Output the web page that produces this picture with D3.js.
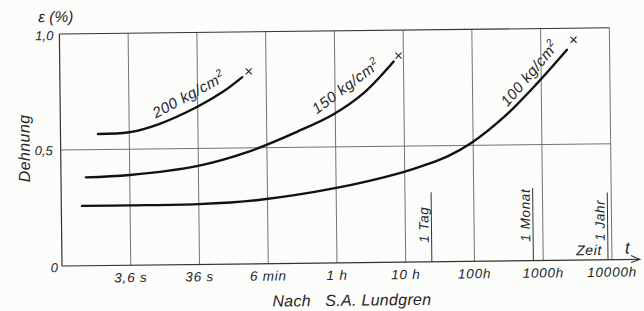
<!DOCTYPE html>
<html>
<head>
<meta charset="utf-8">
<script src="https://cdn.jsdelivr.net/npm/d3@7"></script>
<style>
  body { margin: 0; background: #fcfcfb; }
  svg text { font-family: "Liberation Sans", Arial, sans-serif; font-style: italic; fill: #262626; }
</style>
</head>
<body>
<div id="d3-container"></div>
<script>
/**
 * CONSTANTS AND GLOBALS
 * */
const width = 644,
  height = 311,
  margin = { top: 34, bottom: 45, left: 62, right: 32 };

// time in hours (3,6 s = 0.001 h), strain in %
const tickHours = [0.001, 0.01, 0.1, 1, 10, 100, 1000, 10000];
const tickLabels = ["3,6 s", "36 s", "6 min", "1 h", "10 h", "100h", "1000h", "10000h"];
const yTicks = [0, 0.5, 1.0];
const yTickLabels = ["0", "0,5", "1,0"];

const curve200 = [[0.00035, 0.567], [0.001, 0.573], [0.0026, 0.605], [0.0099, 0.68], [0.024, 0.745], [0.045, 0.805]];
const curve150 = [[0.00023, 0.381], [0.001, 0.389], [0.0099, 0.425], [0.053, 0.483], [0.28, 0.568], [0.96, 0.642], [2.6, 0.73], [7.2, 0.865]];
const curve100 = [[0.0002, 0.258], [0.001, 0.258], [0.0099, 0.26], [0.074, 0.275], [0.96, 0.322], [9, 0.386], [22, 0.422], [43, 0.455], [94, 0.51], [290, 0.623], [880, 0.765], [2400, 0.907]];
const ruptures = [[0.056, 0.83], [8.5, 0.89], [3000, 0.95]];

const stressLabels = ["200 kg/cm", "150 kg/cm", "100 kg/cm"];
const labelPos = [[0.0083, 0.705], [1.65, 0.736], [811, 0.787]];
const labelAngle = [-28, -36, -49];

const markerNames = ["1 Tag", "1 Monat", "1 Jahr"];
const markerHours = [24, 720, 8760];
const markerTop = [0.30, 0.313, 0.29];

let svg;

init();

function init() {
  svg = d3.select("#d3-container")
    .append("svg")
    .attr("width", width)
    .attr("height", height);

  const x = d3.scaleLog()
    .domain([0.0001, 10000])
    .range([margin.left, width - margin.right]);

  const y = d3.scaleLinear()
    .domain([0, 1])
    .range([height - margin.bottom, margin.top]);

  // the scan is a little tilted
  const g = svg.append("g")
    .attr("transform", `rotate(-0.65, ${x.range()[0]}, ${y(0)})`);

  // grid
  g.selectAll(".vgrid")
    .data(tickHours)
    .join("line")
    .attr("class", "vgrid")
    .attr("x1", d => x(d)).attr("x2", d => x(d))
    .attr("y1", y(0)).attr("y2", y(1))
    .attr("stroke", "#5a5a5a").attr("stroke-width", 0.85);

  g.append("line")
    .attr("x1", x.range()[0]).attr("x2", x.range()[1])
    .attr("y1", y(0.5)).attr("y2", y(0.5))
    .attr("stroke", "#5a5a5a").attr("stroke-width", 0.85);

  g.append("line")
    .attr("x1", x.range()[0]).attr("x2", x.range()[1])
    .attr("y1", y(1)).attr("y2", y(1))
    .attr("stroke", "#333").attr("stroke-width", 1.1);

  // axes
  g.append("line")
    .attr("x1", x.range()[0]).attr("x2", x.range()[0])
    .attr("y1", y(0)).attr("y2", y(1))
    .attr("stroke", "#333").attr("stroke-width", 1.2);

  const axisEnd = x.range()[1] + 28;
  g.append("line")
    .attr("x1", x.range()[0]).attr("x2", axisEnd)
    .attr("y1", y(0)).attr("y2", y(0))
    .attr("stroke", "#333").attr("stroke-width", 1.2);

  g.append("path")
    .attr("d", `M${axisEnd - 9},${y(0) - 4}L${axisEnd},${y(0)}L${axisEnd - 9},${y(0) + 3}`)
    .attr("fill", "none").attr("stroke", "#333").attr("stroke-width", 1);

  // tick labels
  g.selectAll(".xlab")
    .data(tickHours)
    .join("text")
    .attr("class", "xlab")
    .attr("x", d => x(d))
    .attr("y", y(0) + 17)
    .attr("text-anchor", "middle")
    .attr("font-size", 13.5)
    .attr("letter-spacing", 0.8)
    .text((d, i) => tickLabels[i]);

  g.selectAll(".ylab")
    .data(yTicks)
    .join("text")
    .attr("class", "ylab")
    .attr("x", (d, i) => [58, 54, 56][i])
    .attr("y", (d, i) => y(d) + [6, 5, 6][i])
    .attr("text-anchor", "end")
    .attr("font-size", 13)
    .text((d, i) => yTickLabels[i]);

  g.append("text")
    .attr("x", 41).attr("y", 22)
    .attr("font-size", 15.5)
    .text("ε (%)");

  g.append("text")
    .attr("transform", `translate(31, ${y(0.5) - 2}) rotate(-90)`)
    .attr("text-anchor", "middle")
    .attr("font-size", 16)
    .attr("letter-spacing", 0.4)
    .text("Dehnung");

  g.append("text")
    .attr("x", 272).attr("y", 309)
    .attr("font-size", 16)
    .attr("letter-spacing", 0.3)
    .style("white-space", "pre")
    .text("Nach   S.A. Lundgren");

  g.append("text")
    .attr("x", x(10000) - 10).attr("y", y(0) - 5)
    .attr("text-anchor", "end")
    .attr("font-size", 14)
    .attr("letter-spacing", 0.6)
    .text("Zeit");

  g.append("text")
    .attr("x", x(10000) + 13).attr("y", y(0) - 6)
    .attr("font-size", 17)
    .text("t");

  // time markers
  g.selectAll(".mark")
    .data(markerHours)
    .join("line")
    .attr("class", "mark")
    .attr("x1", d => x(d)).attr("x2", d => x(d))
    .attr("y1", y(0)).attr("y2", (d, i) => y(markerTop[i]))
    .attr("stroke", "#333").attr("stroke-width", 1);

  g.selectAll(".marklab")
    .data(markerHours)
    .join("text")
    .attr("class", "marklab")
    .attr("transform", d => `translate(${x(d) - 3}, ${y(0) - 19}) rotate(-90)`)
    .attr("font-size", 13.5)
    .attr("letter-spacing", 0.6)
    .text((d, i) => markerNames[i]);

  // creep curves
  const line = d3.line()
    .x(d => x(d[0]))
    .y(d => y(d[1]))
    .curve(d3.curveCatmullRom.alpha(0.5));

  g.selectAll(".curve")
    .data([curve200, curve150, curve100])
    .join("path")
    .attr("class", "curve")
    .attr("d", line)
    .attr("fill", "none")
    .attr("stroke", "#111")
    .attr("stroke-width", 2.4)
    .attr("stroke-linecap", "round");

  // rupture crosses
  g.selectAll(".cross")
    .data(ruptures)
    .join("path")
    .attr("class", "cross")
    .attr("d", d => {
      const cx = x(d[0]), cy = y(d[1]), s = 3;
      return `M${cx - s},${cy - s}L${cx + s},${cy + s}M${cx - s},${cy + s}L${cx + s},${cy - s}`;
    })
    .attr("stroke", "#222")
    .attr("stroke-width", 1.1);

  // curve labels, sitting just above each curve
  const lab = g.selectAll(".stress")
    .data(labelPos)
    .join("text")
    .attr("class", "stress")
    .attr("transform", (d, i) => `translate(${x(d[0])}, ${y(d[1])}) rotate(${labelAngle[i]})`)
    .attr("text-anchor", "middle")
    .attr("dy", "-0.12em")
    .attr("font-size", 15)
    .attr("letter-spacing", 0.5);

  lab.append("tspan").text((d, i) => stressLabels[i]);
  lab.append("tspan")
    .attr("font-size", 10.5)
    .attr("dy", "-0.6em")
    .text("2");
}
</script>
</body>
</html>
